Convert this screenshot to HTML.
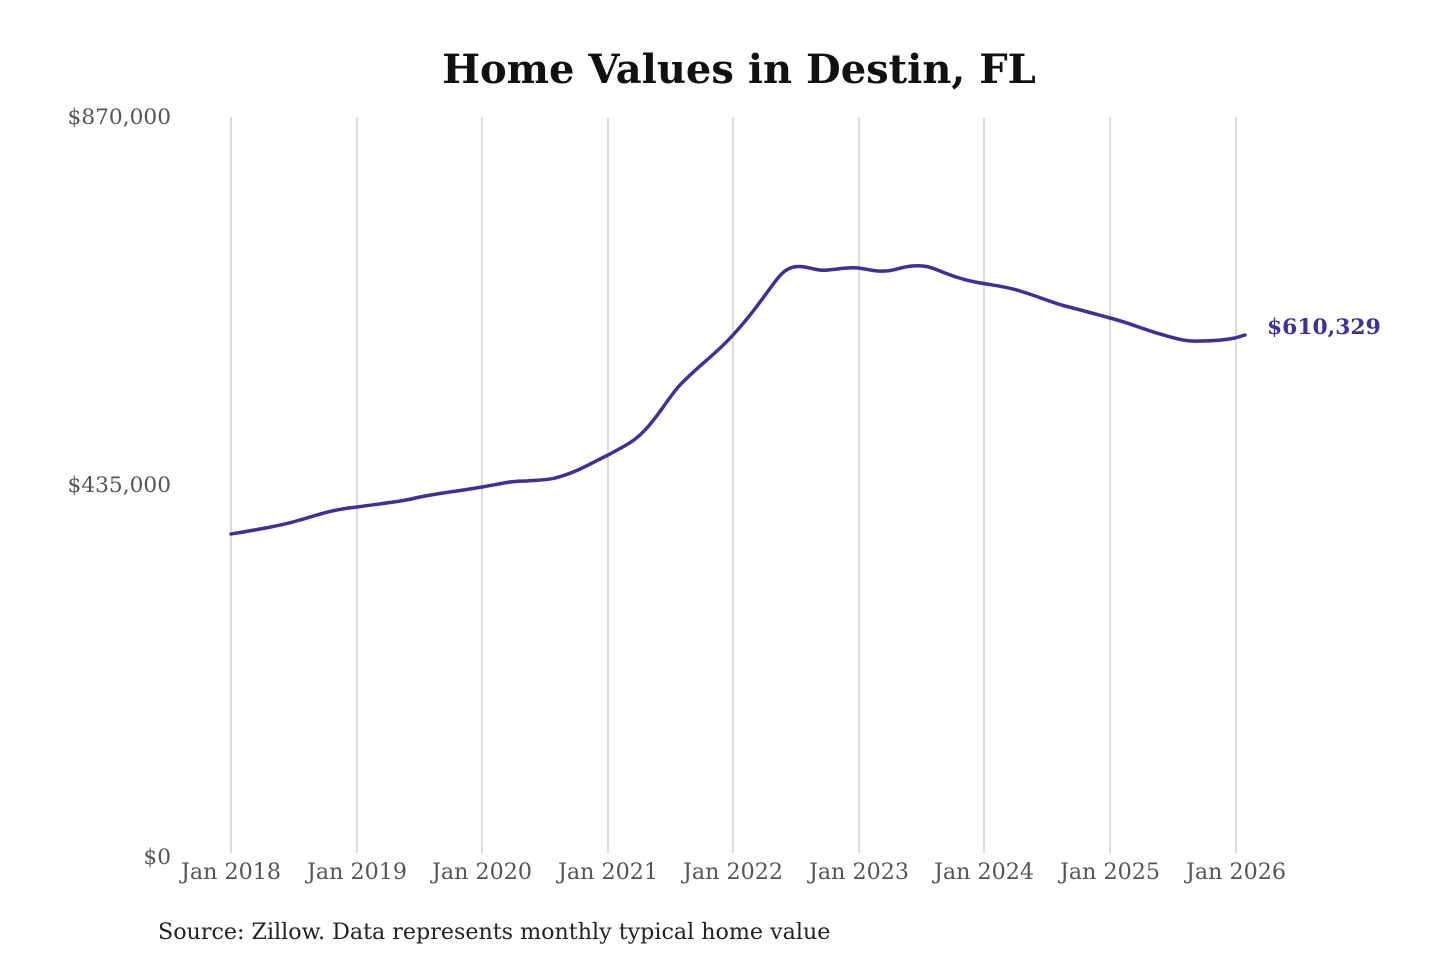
<!DOCTYPE html>
<html><head><meta charset="utf-8"><style>
html,body{margin:0;padding:0;background:#fff;width:1440px;height:960px;overflow:hidden}
</style></head><body>
<svg width="1440" height="960" xmlns="http://www.w3.org/2000/svg" font-family="'DejaVu Serif','Liberation Serif',serif">
<text x="739" y="83" text-anchor="middle" font-size="40" font-weight="bold" fill="#111">Home Values in Destin, FL</text>
<g stroke="#c4c4c4" stroke-width="1.2">
<line x1="231" y1="117" x2="231" y2="853"/><line x1="357" y1="117" x2="357" y2="853"/>
<line x1="482" y1="117" x2="482" y2="853"/><line x1="608" y1="117" x2="608" y2="853"/>
<line x1="733" y1="117" x2="733" y2="853"/><line x1="859" y1="117" x2="859" y2="853"/>
<line x1="984" y1="117" x2="984" y2="853"/><line x1="1110" y1="117" x2="1110" y2="853"/>
<line x1="1236" y1="117" x2="1236" y2="853"/>
</g>
<g font-size="21.7" fill="#555" text-anchor="end">
<text x="171" y="124">$870,000</text>
<text x="171" y="492">$435,000</text>
<text x="171" y="864">$0</text>
</g>
<g font-size="22.2" fill="#555" text-anchor="middle">
<text x="231" y="879">Jan 2018</text><text x="357" y="879">Jan 2019</text>
<text x="482" y="879">Jan 2020</text><text x="608" y="879">Jan 2021</text>
<text x="733" y="879">Jan 2022</text><text x="859" y="879">Jan 2023</text>
<text x="984" y="879">Jan 2024</text><text x="1110" y="879">Jan 2025</text>
<text x="1236" y="879">Jan 2026</text>
</g>
<path fill="none" stroke="#3b3197" stroke-width="3.5" stroke-linejoin="round" stroke-linecap="round"
d="M231,534 C255,530 280,526 300,520 C320,514 335,509 357,507 C385,503 400,502 420,497 C445,492 460,491 482,487 C500,484 510,481 525,481 C540,480 548,480 555,478 C575,473 590,464 608,455 C625,446 635,441 645,430 C660,414 668,398 680,385 C700,364 715,355 733,335 C745,322 752,313 760,302 C770,289 778,276 785,271 C792,266 798,266 805,267 C815,269 820,271 828,270 C840,269 848,267 858,268 C868,269 875,272 885,271 C895,271 900,267 912,266 C925,265 930,267 940,271 C950,275 960,279 975,282 C990,285 1005,286 1020,291 C1040,297 1050,302 1065,306 C1085,311 1095,314 1110,318 C1130,323 1145,330 1160,334 C1175,338 1185,342 1200,341 C1215,341 1225,340 1235,338 L1245,335"/>
<text x="1267" y="334" font-size="21.8" font-weight="bold" fill="#3b3197">$610,329</text>
<text x="158" y="939" font-size="22.2" fill="#222">Source: Zillow. Data represents monthly typical home value</text>
</svg>
</body></html>
